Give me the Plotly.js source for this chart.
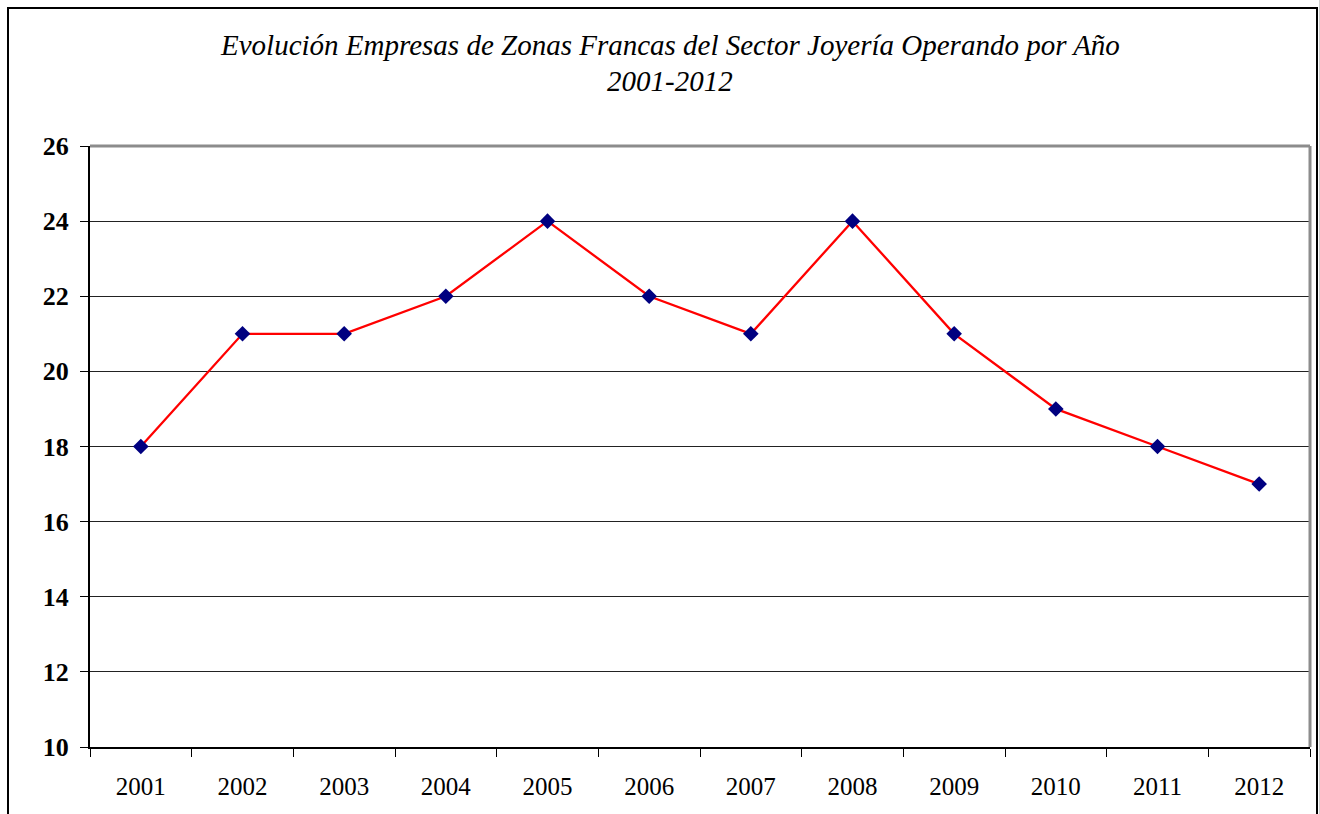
<!DOCTYPE html>
<html>
<head>
<meta charset="utf-8">
<script src="https://cdn.plot.ly/plotly-3.0.1.min.js"></script>
<style>
  html, body { margin: 0; padding: 0; background: #ffffff; overflow: hidden; }
  #frame { position: absolute; left: 7px; top: 7px; width: 1311px; height: 1000px; border: 2px solid #000; box-sizing: border-box; }
  #frame2 { position: absolute; left: 1319px; top: 0px; width: 1px; height: 814px; background: #d0d0d0; }
  #chart { position: absolute; left: 0; top: 0; width: 1320px; height: 814px; }
</style>
</head>
<body>
<div id="frame"></div>
<div id="frame2"></div>
<div id="chart"></div>
<script>
const years = ['2001','2002','2003','2004','2005','2006','2007','2008','2009','2010','2011','2012'];
const empresas = [18, 21, 21, 22, 24, 22, 21, 24, 21, 19, 18, 17];
const yTicks = [10, 12, 14, 16, 18, 20, 22, 24, 26];
const titleLine1 = 'Evolución Empresas de Zonas Francas del Sector Joyería Operando por Año';
const titleLine2 = '2001-2012';

const serif = 'Liberation Serif, Times New Roman, serif';

const trace = {
  x: years,
  y: empresas,
  type: 'scatter',
  mode: 'lines+markers',
  line: { color: '#ff0000', width: 2.3 },
  marker: { symbol: 'diamond', size: 12, color: '#000080', line: { width: 0 } },
  cliponaxis: false,
  hoverinfo: 'x+y'
};

const layout = {
  width: 1320,
  height: 814,
  margin: { l: 90, r: 10, t: 146, b: 67 },
  paper_bgcolor: 'rgba(0,0,0,0)',
  plot_bgcolor: '#ffffff',
  showlegend: false,
  annotations: [
    { text: titleLine1, xref: 'paper', yref: 'paper', x: 0.4754, y: 1.168, xanchor: 'center', yanchor: 'middle', showarrow: false,
      font: { family: serif, size: 29, color: '#000', style: 'italic' } },
    { text: titleLine2, xref: 'paper', yref: 'paper', x: 0.4754, y: 1.108, xanchor: 'center', yanchor: 'middle', showarrow: false,
      font: { family: serif, size: 29, color: '#000', style: 'italic' } }
  ],
  xaxis: {
    type: 'category',
    range: [-0.5, 11.5],
    tickson: 'boundaries',
    ticks: 'outside',
    ticklen: 8,
    tickwidth: 1,
    tickcolor: '#000',
    showline: true,
    linecolor: '#000',
    linewidth: 2,
    showgrid: false,
    zeroline: false,
    ticklabelstandoff: 16,
    tickfont: { family: serif, size: 25, color: '#000' },
    fixedrange: true
  },
  yaxis: {
    range: [10, 26],
    tickvals: yTicks,
    ticktext: yTicks.map(String),
    ticks: 'outside',
    ticklen: 8,
    tickwidth: 1,
    tickcolor: '#000',
    showline: true,
    linecolor: '#000',
    linewidth: 2,
    showgrid: true,
    gridcolor: '#222',
    gridwidth: 1,
    zeroline: false,
    ticklabelstandoff: 6,
    tickfont: { family: serif, size: 26, color: '#000', weight: 'bold' },
    fixedrange: true
  },
  shapes: [
    { type: 'line', xref: 'paper', yref: 'paper', x0: 0, x1: 1, y0: 1, y1: 1, line: { color: '#8c8c8c', width: 3 }, layer: 'above' },
    { type: 'line', xref: 'paper', yref: 'paper', x0: 1, x1: 1, y0: 0, y1: 1, line: { color: '#8c8c8c', width: 3 }, layer: 'above' }
  ]
};

Plotly.newPlot('chart', [trace], layout, { displayModeBar: false, staticPlot: true });
</script>
</body>
</html>
